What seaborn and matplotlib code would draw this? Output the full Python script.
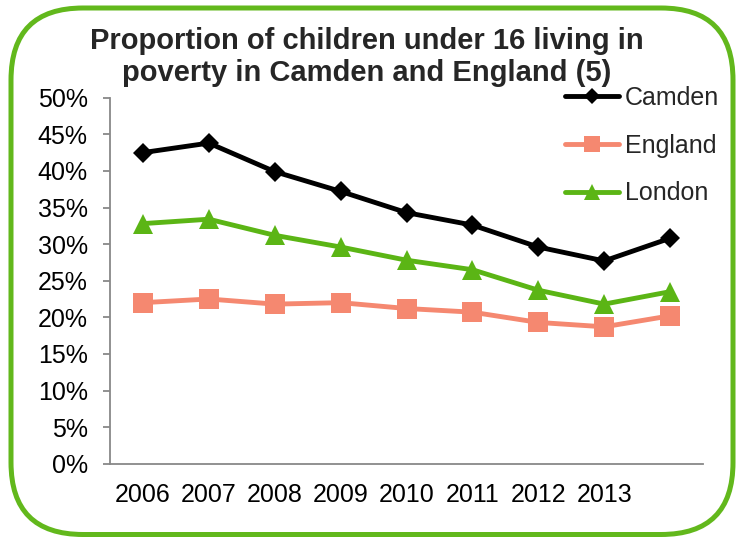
import matplotlib
matplotlib.use("Agg")
import matplotlib.pyplot as plt
from matplotlib.patches import FancyBboxPatch
from matplotlib.lines import Line2D
from matplotlib.ticker import FuncFormatter
import seaborn as sns
import pandas as pd

# ---- data ----
years = ["2006", "2007", "2008", "2009", "2010", "2011", "2012", "2013", ""]
camden = [42.5, 43.8, 39.9, 37.2, 34.3, 32.6, 29.6, 27.7, 30.8]
england = [22.0, 22.5, 21.8, 22.0, 21.2, 20.7, 19.3, 18.7, 20.2]
london = [32.8, 33.4, 31.2, 29.6, 27.8, 26.5, 23.7, 21.8, 23.5]
series_names = ["Camden", "England", "London"]
yticks = [0, 5, 10, 15, 20, 25, 30, 35, 40, 45, 50]

colors = {"Camden": "#000000", "England": "#F58870", "London": "#5BB515"}
markers = {"Camden": "D", "England": "s", "London": "^"}
msizes = {"Camden": 10.0, "England": 14.5, "London": 14.5}

rows = []
for name, vals in zip(series_names, [camden, england, london]):
    for i, v in enumerate(vals):
        rows.append({"idx": i, "value": v, "Series": name})
df = pd.DataFrame(rows)

sns.set_theme(style="white")
plt.rcParams["font.family"] = ["Liberation Sans", "DejaVu Sans"]

fig = plt.figure(figsize=(7.44, 5.37), dpi=100)
ax = fig.add_axes([110 / 744, 1 - 463.7 / 537, 593 / 744, 366 / 537])

sns.lineplot(data=df, x="idx", y="value", hue="Series", style="Series",
             palette=colors, markers=markers, dashes=False, linewidth=3.5,
             markeredgewidth=0, legend=False, ax=ax, hue_order=series_names,
             style_order=series_names)

for line, name in zip(ax.lines, series_names):
    line.set_markersize(msizes[name])
    line.set_solid_joinstyle("round")

ax.set_xlim(-0.5, len(years) - 0.5)
ax.set_ylim(0, 50)
ax.set_xticks(range(len(years)))
ax.set_xticklabels(years)
ax.set_yticks(yticks)
ax.yaxis.set_major_formatter(FuncFormatter(lambda v, p: f"{v:.0f}%"))
ax.set_xlabel("")
ax.set_ylabel("")

gray = "#888888"
for s in ["top", "right"]:
    ax.spines[s].set_visible(False)
for s in ["left", "bottom"]:
    ax.spines[s].set_color(gray)
    ax.spines[s].set_linewidth(1.3)
ax.tick_params(axis="y", which="major", direction="out", length=5, width=1.3,
               color=gray, labelsize=18, pad=11, left=True)
ax.tick_params(axis="x", length=0, labelsize=18, pad=14)
for lab in ax.get_yticklabels() + ax.get_xticklabels():
    lab.set_color("black")

# legend
handles = [Line2D([0], [0], color=colors[n], lw=3.5, marker=markers[n],
                  markersize=msizes[n] * 0.8, markeredgewidth=0) for n in series_names]
leg = ax.legend(handles, series_names, loc="upper left",
                bbox_to_anchor=(565 / 744, 1 - 86 / 537), bbox_transform=fig.transFigure,
                frameon=False, fontsize=18, borderpad=0, borderaxespad=0,
                handlelength=2.15, handletextpad=0.25, labelspacing=0.95)

# title
fig.text(367 / 744, 1 - 27 / 537,
         "Proportion of children under 16 living in\npoverty in Camden and England (5)",
         ha="center", va="top", fontsize=21, fontweight="bold", linespacing=1.17)

# rounded border
border = FancyBboxPatch((0.11, 0.025), 7.22, 5.265,
                        boxstyle="round,pad=0,rounding_size=0.72",
                        transform=fig.dpi_scale_trans, fill=False,
                        edgecolor="#62B81C", linewidth=3.6, clip_on=False)
fig.add_artist(border)

fig.savefig("out.png", dpi=100)
